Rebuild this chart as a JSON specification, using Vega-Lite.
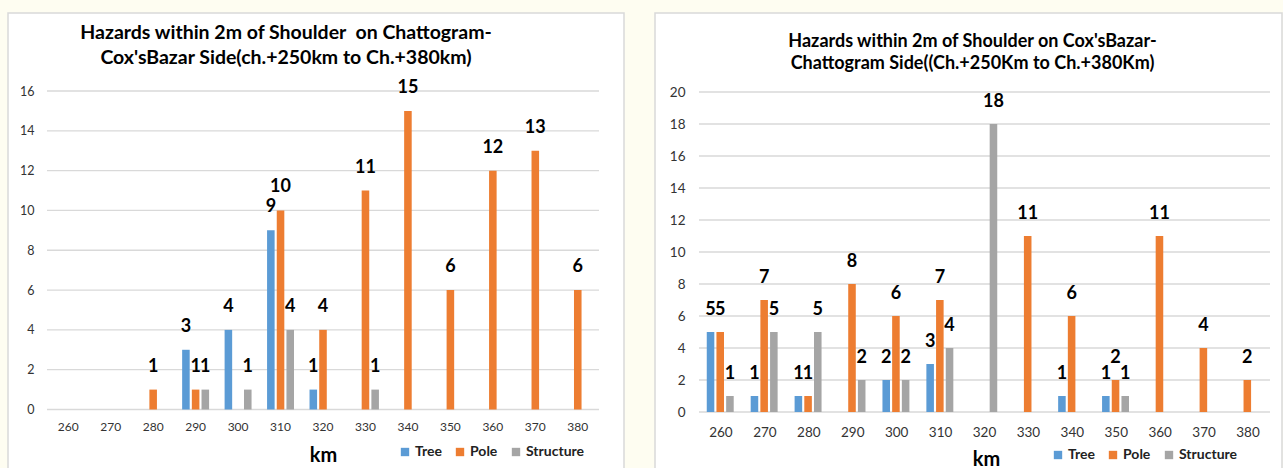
{
  "$schema": "https://vega.github.io/schema/vega-lite/v6.json",
  "background": "#fefdf1",
  "padding": {"left": 7, "top": 12, "right": 0, "bottom": 0},
  "spacing": 29,
  "config": {
    "font": "Lato",
    "view": {"fill": "white", "stroke": "#d9d9d9", "strokeWidth": 1.5},
    "axis": {"grid": false, "domain": false, "ticks": false, "tickSize": 0, "labelColor": "#333333", "labelFont": "Lato"}
  },
  "datasets": {
    "left": [
      {"km": "280", "type": "Pole", "count": 1},
      {"km": "290", "type": "Tree", "count": 3},
      {"km": "290", "type": "Pole", "count": 1},
      {"km": "290", "type": "Structure", "count": 1},
      {"km": "300", "type": "Tree", "count": 4},
      {"km": "300", "type": "Structure", "count": 1},
      {"km": "310", "type": "Tree", "count": 9},
      {"km": "310", "type": "Pole", "count": 10},
      {"km": "310", "type": "Structure", "count": 4},
      {"km": "320", "type": "Tree", "count": 1},
      {"km": "320", "type": "Pole", "count": 4},
      {"km": "330", "type": "Pole", "count": 11},
      {"km": "330", "type": "Structure", "count": 1},
      {"km": "340", "type": "Pole", "count": 15},
      {"km": "350", "type": "Pole", "count": 6},
      {"km": "360", "type": "Pole", "count": 12},
      {"km": "370", "type": "Pole", "count": 13},
      {"km": "380", "type": "Pole", "count": 6}
    ],
    "right": [
      {"km": "260", "type": "Tree", "count": 5},
      {"km": "260", "type": "Pole", "count": 5},
      {"km": "260", "type": "Structure", "count": 1},
      {"km": "270", "type": "Tree", "count": 1},
      {"km": "270", "type": "Pole", "count": 7},
      {"km": "270", "type": "Structure", "count": 5},
      {"km": "280", "type": "Tree", "count": 1},
      {"km": "280", "type": "Pole", "count": 1},
      {"km": "280", "type": "Structure", "count": 5},
      {"km": "290", "type": "Pole", "count": 8},
      {"km": "290", "type": "Structure", "count": 2},
      {"km": "300", "type": "Tree", "count": 2},
      {"km": "300", "type": "Pole", "count": 6},
      {"km": "300", "type": "Structure", "count": 2},
      {"km": "310", "type": "Tree", "count": 3},
      {"km": "310", "type": "Pole", "count": 7},
      {"km": "310", "type": "Structure", "count": 4},
      {"km": "320", "type": "Structure", "count": 18},
      {"km": "330", "type": "Pole", "count": 11},
      {"km": "340", "type": "Tree", "count": 1},
      {"km": "340", "type": "Pole", "count": 6},
      {"km": "350", "type": "Tree", "count": 1},
      {"km": "350", "type": "Pole", "count": 2},
      {"km": "350", "type": "Structure", "count": 1},
      {"km": "360", "type": "Pole", "count": 11},
      {"km": "370", "type": "Pole", "count": 4},
      {"km": "380", "type": "Pole", "count": 2}
    ],
    "grid1": [{"v": 0}, {"v": 2}, {"v": 4}, {"v": 6}, {"v": 8}, {"v": 10}, {"v": 12}, {"v": 14}, {"v": 16}],
    "grid2": [{"v": 0}, {"v": 2}, {"v": 4}, {"v": 6}, {"v": 8}, {"v": 10}, {"v": 12}, {"v": 14}, {"v": 16}, {"v": 18}, {"v": 20}]
  },
  "resolve": {"legend": {"color": "independent"}, "scale": {"color": "independent", "y": "independent", "x": "independent"}},
  "hconcat": [
    {
      "width": 616,
      "height": 460,
      "title": {
        "text": ["Hazards within 2m of Shoulder \u00a0on Chattogram-", "Cox'sBazar Side(ch.+250km to Ch.+380km)"],
        "fontSize": 19.5, "fontWeight": "bold", "color": "black", "anchor": "middle",
        "offset": -55, "lineHeight": 25, "dx": -30, "font": "Lato"
      },
      "resolve": {"scale": {"x": "independent"}},
      "layer": [
        {
          "data": {"name": "grid1"},
          "mark": {"type": "rule", "color": "#d9d9d9", "strokeWidth": 1.3},
          "encoding": {
            "y": {"field": "v", "type": "quantitative",
                  "scale": {"domain": [0, 16], "range": [396.5, 78], "nice": false},
                  "axis": {"orient": "left", "offset": -26, "labelPadding": 0, "values": [0, 2, 4, 6, 8, 10, 12, 14, 16], "labelFontSize": 12.5, "title": null}},
            "x": {"datum": 0, "type": "quantitative", "scale": {"domain": [0, 1], "range": [39, 591]}, "axis": null},
            "x2": {"datum": 1}
          }
        },
        {
          "data": {"name": "left"},
          "layer": [
            {
              "mark": {"type": "bar"},
              "encoding": {
                "x": {"field": "km", "type": "nominal",
                      "scale": {"domain": ["260", "270", "280", "290", "300", "310", "320", "330", "340", "350", "360", "370", "380"], "range": [39, 591], "paddingInner": 0, "paddingOuter": 0},
                      "axis": {"orient": "bottom", "offset": -64, "labelPadding": 12, "labelAngle": 0, "labelFontSize": 12, "title": "km", "titleFontSize": 20, "titleFontWeight": "bold", "titleColor": "black", "titlePadding": 13, "titleX": 315}},
                "xOffset": {"field": "type", "type": "nominal", "scale": {"domain": ["Tree", "Pole", "Structure"], "paddingInner": 0.22, "paddingOuter": 0.8}},
                "y": {"field": "count", "type": "quantitative", "scale": {"domain": [0, 16], "range": [396.5, 78], "nice": false},
                      "axis": {"orient": "left", "offset": -26, "labelPadding": 0, "values": [0, 2, 4, 6, 8, 10, 12, 14, 16], "labelFontSize": 12.5, "title": null}},
                "color": {"field": "type", "type": "nominal",
                          "scale": {"domain": ["Tree", "Pole", "Structure"], "range": ["#5b9bd5", "#ed7d31", "#a5a5a5"]},
                          "legend": {"orient": "none", "legendX": 390, "legendY": 432, "direction": "horizontal", "title": null, "symbolType": "square", "symbolSize": 70, "labelFontSize": 14, "labelFontWeight": "bold", "labelColor": "#222222", "columnPadding": 11, "labelOffset": 3, "padding": 0, "symbolStrokeWidth": 0}}
              }
            },
            {
              "mark": {"type": "text", "fontSize": 18, "fontWeight": "bold", "color": "black", "dy": -23, "baseline": "middle"},
              "encoding": {
                "x": {"field": "km", "type": "nominal", "scale": {"domain": ["260", "270", "280", "290", "300", "310", "320", "330", "340", "350", "360", "370", "380"], "range": [39, 591], "paddingInner": 0, "paddingOuter": 0},
                      "axis": {"orient": "bottom", "offset": -64, "labelPadding": 12, "labelAngle": 0, "labelFontSize": 12, "title": "km", "titleFontSize": 20, "titleFontWeight": "bold", "titleColor": "black", "titlePadding": 13, "titleX": 315}},
                "xOffset": {"field": "type", "type": "nominal", "scale": {"domain": ["Tree", "Pole", "Structure"], "paddingInner": 0.22, "paddingOuter": 0.8}},
                "y": {"field": "count", "type": "quantitative", "scale": {"domain": [0, 16], "range": [396.5, 78], "nice": false},
                      "axis": {"orient": "left", "offset": -26, "labelPadding": 0, "values": [0, 2, 4, 6, 8, 10, 12, 14, 16], "labelFontSize": 12.5, "title": null}},
                "text": {"field": "count", "type": "quantitative"}
              }
            }
          ]
        }
      ]
    },
    {
      "width": 627,
      "height": 460,
      "title": {
        "text": ["Hazards within 2m of Shoulder on Cox'sBazar-", "Chattogram Side((Ch.+250Km to Ch.+380Km)"],
        "fontSize": 18, "fontWeight": "bold", "color": "black", "anchor": "middle",
        "offset": -60, "lineHeight": 22, "dx": 4, "font": "Lato"
      },
      "resolve": {"scale": {"x": "independent"}},
      "layer": [
        {
          "data": {"name": "grid2"},
          "mark": {"type": "rule", "color": "#d9d9d9", "strokeWidth": 1.3},
          "encoding": {
            "y": {"field": "v", "type": "quantitative",
                  "scale": {"domain": [0, 20], "range": [399, 79], "nice": false},
                  "axis": {"orient": "left", "offset": -30, "labelPadding": 0, "values": [0, 2, 4, 6, 8, 10, 12, 14, 16, 18, 20], "labelFontSize": 13.5, "title": null}},
            "x": {"datum": 0, "type": "quantitative", "scale": {"domain": [0, 1], "range": [44, 615]}, "axis": null},
            "x2": {"datum": 1}
          }
        },
        {
          "data": {"name": "right"},
          "layer": [
            {
              "mark": {"type": "bar"},
              "encoding": {
                "x": {"field": "km", "type": "nominal",
                      "scale": {"domain": ["260", "270", "280", "290", "300", "310", "320", "330", "340", "350", "360", "370", "380"], "range": [44, 615], "paddingInner": 0, "paddingOuter": 0},
                      "axis": {"orient": "bottom", "offset": -61, "labelPadding": 13, "labelAngle": 0, "labelFontSize": 13.5, "title": "km", "titleFontSize": 20, "titleFontWeight": "bold", "titleColor": "black", "titlePadding": 11, "titleX": 331}},
                "xOffset": {"field": "type", "type": "nominal", "scale": {"domain": ["Tree", "Pole", "Structure"], "paddingInner": 0.22, "paddingOuter": 0.8}},
                "y": {"field": "count", "type": "quantitative", "scale": {"domain": [0, 20], "range": [399, 79], "nice": false},
                      "axis": {"orient": "left", "offset": -30, "labelPadding": 0, "values": [0, 2, 4, 6, 8, 10, 12, 14, 16, 18, 20], "labelFontSize": 13.5, "title": null}},
                "color": {"field": "type", "type": "nominal",
                          "scale": {"domain": ["Tree", "Pole", "Structure"], "range": ["#5b9bd5", "#ed7d31", "#a5a5a5"]},
                          "legend": {"orient": "none", "legendX": 396, "legendY": 435, "direction": "horizontal", "title": null, "symbolType": "square", "symbolSize": 70, "labelFontSize": 14, "labelFontWeight": "bold", "labelColor": "#222222", "columnPadding": 11, "labelOffset": 3, "padding": 0, "symbolStrokeWidth": 0}}
              }
            },
            {
              "mark": {"type": "text", "fontSize": 18, "fontWeight": "bold", "color": "black", "dy": -22, "baseline": "middle"},
              "encoding": {
                "x": {"field": "km", "type": "nominal", "scale": {"domain": ["260", "270", "280", "290", "300", "310", "320", "330", "340", "350", "360", "370", "380"], "range": [44, 615], "paddingInner": 0, "paddingOuter": 0},
                      "axis": {"orient": "bottom", "offset": -61, "labelPadding": 13, "labelAngle": 0, "labelFontSize": 13.5, "title": "km", "titleFontSize": 20, "titleFontWeight": "bold", "titleColor": "black", "titlePadding": 11, "titleX": 331}},
                "xOffset": {"field": "type", "type": "nominal", "scale": {"domain": ["Tree", "Pole", "Structure"], "paddingInner": 0.22, "paddingOuter": 0.8}},
                "y": {"field": "count", "type": "quantitative", "scale": {"domain": [0, 20], "range": [399, 79], "nice": false},
                      "axis": {"orient": "left", "offset": -30, "labelPadding": 0, "values": [0, 2, 4, 6, 8, 10, 12, 14, 16, 18, 20], "labelFontSize": 13.5, "title": null}},
                "text": {"field": "count", "type": "quantitative"}
              }
            }
          ]
        }
      ]
    }
  ]
}
